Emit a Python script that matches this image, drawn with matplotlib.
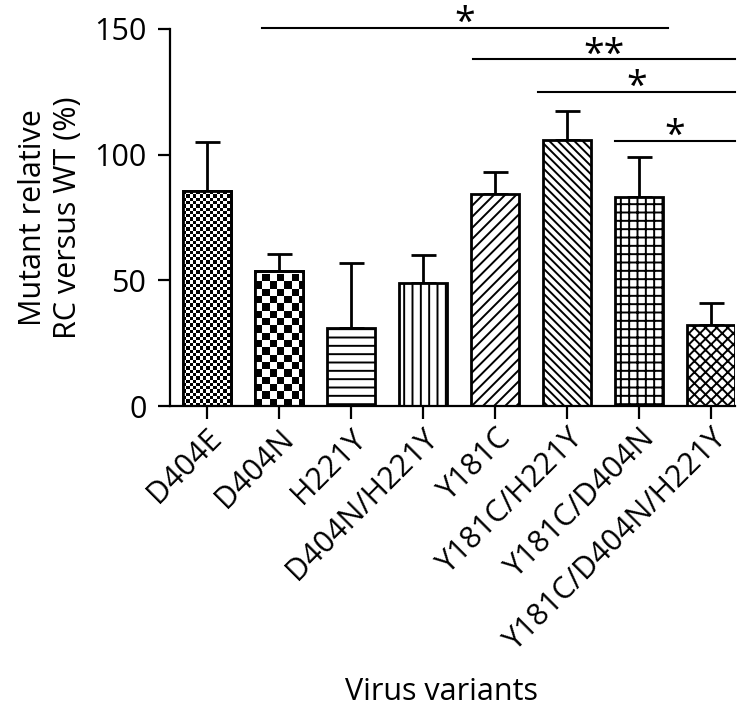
import numpy as np
import matplotlib
matplotlib.use('Agg')
import matplotlib.pyplot as plt

# data
variants = ['D404E', 'D404N', 'H221Y', 'D404N/H221Y', 'Y181C',
            'Y181C/H221Y', 'Y181C/D404N', 'Y181C/D404N/H221Y']
means = [85.5, 53.7, 31.0, 49.0, 84.4, 106.0, 83.2, 32.2]
errs = [19.5, 6.8, 26.0, 11.0, 8.6, 11.4, 15.8, 8.8]
hatches = [None, None, '--', '||', '///', '\\\\\\\\', '++', 'xxx']
checker_px = [3.3, 7.3, 0, 0, 0, 0, 0, 0]

# significance brackets: (x start, x end, y, label)
sig_x0 = [0.76, 3.7, 4.6, 5.67]
sig_x1 = [6.4, 7.33, 7.33, 7.33]
sig_y = [150.4, 138.0, 125.0, 105.5]
sig_lbl = ['*', '**', '*', '*']

plt.rcParams['font.family'] = ['Open Sans', 'DejaVu Sans']
plt.rcParams['hatch.linewidth'] = 1.4

W, H = 747, 714
fig = plt.figure(figsize=(W / 100, H / 100), dpi=100)
ax = fig.add_axes([170 / W, 1 - 406 / H, (735 - 170) / W, (406 - 29) / H])

x = np.arange(len(variants))
bw = 0.66
ax.set_xlim(-0.51, 7.33)
ax.set_ylim(0, 150)

bars = ax.bar(x, means, width=bw, color='white', edgecolor='black',
              linewidth=2, zorder=2)
for b, h in zip(bars, hatches):
    if h:
        b.set_hatch(h)

ax.errorbar(x, means, yerr=[np.zeros(len(errs)), errs], fmt='none',
            ecolor='black', elinewidth=2, capsize=9, capthick=2, zorder=1)

# checkerboard fills (no native checker hatch in matplotlib)
px_x = (735 - 170) / (7.33 + 0.51)
px_y = (406 - 29) / 150
for i, (b, c) in enumerate(zip(bars, checker_px)):
    if c <= 0:
        continue
    x0 = i - bw / 2
    h = means[i]
    nx = int(round(bw * px_x / c))
    ny = int(round(h * px_y / c))
    grid = (np.add.outer(np.arange(ny), np.arange(nx)) % 2).astype(float)
    im = ax.imshow(grid, cmap='gray', extent=(x0, x0 + nx * c / px_x, 0, ny * c / px_y),
                   origin='lower', aspect='auto', interpolation='nearest', zorder=2.5)
    im.set_clip_path(b)
    ax.bar(i, h, width=bw, color='none', edgecolor='black', linewidth=2, zorder=3)
ax.set_xlim(-0.51, 7.33)
ax.set_ylim(0, 150)

for x0, x1, y, lbl in zip(sig_x0, sig_x1, sig_y, sig_lbl):
    ax.plot([x0, x1], [y, y], color='black', lw=1.5, clip_on=False)
    ax.text((x0 + x1) / 2, y - 2.5, lbl, ha='center', va='baseline',
            fontsize=27, clip_on=False)

for s in ['top', 'right']:
    ax.spines[s].set_visible(False)
for s in ['left', 'bottom']:
    ax.spines[s].set_linewidth(1.6)

ax.set_yticks([0, 50, 100, 150])
ax.tick_params(axis='both', width=1.6, length=9, labelsize=22)
ax.tick_params(axis='y', pad=8)
ax.set_xticks(x)
ax.set_xticklabels(variants, rotation=45, ha='right', rotation_mode='anchor')
ax.set_ylabel('Mutant relative\nRC versus WT (%)', fontsize=22, labelpad=8)
ax.set_xlabel('Virus variants', fontsize=22)
ax.xaxis.set_label_coords(0.48, -0.72)

fig.savefig('out.png', dpi=100)
